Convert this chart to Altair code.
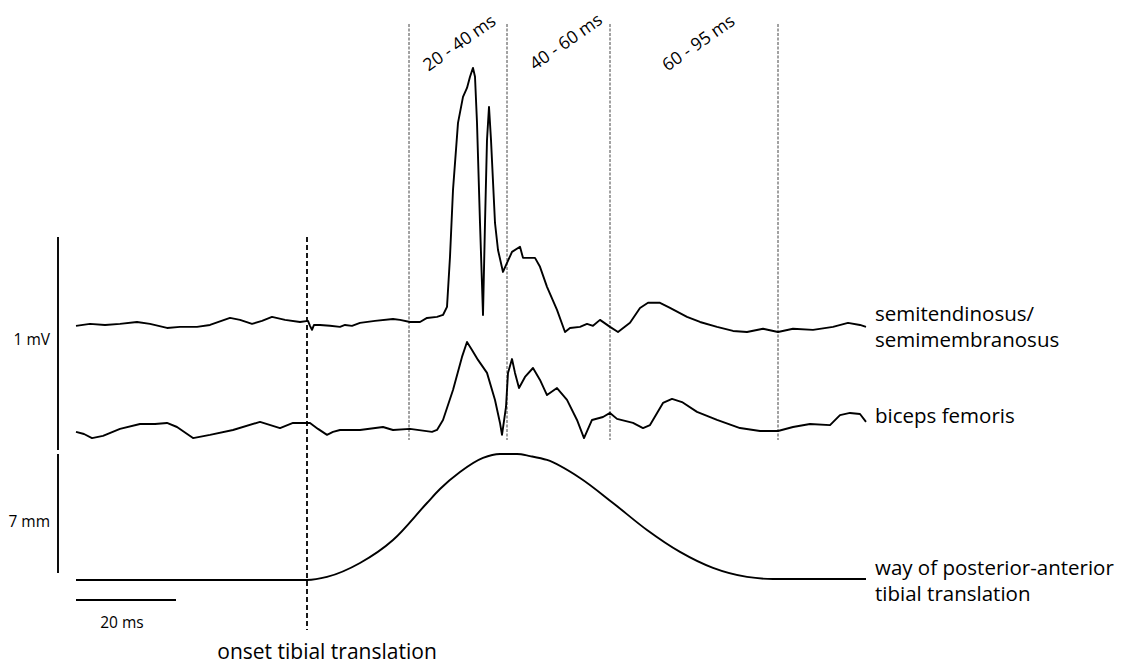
import altair as alt
import pandas as pd

# ---- values: time in ms (0 = onset tibial translation) ----
# semitendinosus / semimembranosus EMG (mV, relative to its own baseline)
st_time = [-46.2, -43.4, -40.4, -37.4, -34.0, -31.4, -28.0, -25.4, -22.0, -19.4, -15.4, -13.4, -11.0, -9.0,
           -7.0, -4.4, -1.4, 0.2, 0.6, 1.0, 1.4, 2.6, 4.6, 6.6, 7.6, 9.0, 10.6, 13.6, 17.2, 18.6, 20.6, 22.6,
           24.0, 26.0, 27.2, 28.0, 28.6, 29.2, 30.2, 31.2, 32.0, 32.6, 33.2, 33.6, 34.0, 34.6, 35.2, 35.6,
           36.0, 36.4, 36.8, 37.6, 38.2, 39.2, 40.0, 41.0, 42.6, 43.2, 45.6, 46.6, 48.0, 50.0, 51.6, 52.6,
           54.6, 56.0, 57.2, 58.6, 60.6, 62.2, 64.6, 66.6, 68.2, 70.6, 72.6, 76.0, 78.6, 82.0, 85.2, 88.0,
           91.2, 94.2, 97.2, 101.2, 105.2, 108.2, 110.6, 111.8]
st_mv = [-0.009, 0.000, -0.005, 0.000, 0.009, 0.000, -0.019, -0.014, -0.014, -0.005, 0.028, 0.019, 0.000,
         0.014, 0.033, 0.019, 0.009, 0.014, -0.009, -0.028, -0.005, -0.005, -0.009, -0.014, -0.005, -0.009,
         0.005, 0.014, 0.023, 0.019, 0.009, 0.009, 0.028, 0.033, 0.042, 0.080, 0.315, 0.629, 0.944, 1.066,
         1.108, 1.160, 1.202, 1.160, 0.944, 0.474, 0.042, 0.474, 0.864, 1.019, 0.864, 0.474, 0.347, 0.244,
         0.286, 0.338, 0.362, 0.310, 0.310, 0.268, 0.174, 0.066, -0.038, -0.019, -0.014, 0.000, -0.009,
         0.019, -0.014, -0.038, 0.005, 0.075, 0.099, 0.099, 0.075, 0.033, 0.009, -0.014, -0.033, -0.038,
         -0.023, -0.038, -0.023, -0.028, -0.014, 0.005, -0.005, -0.014]

# biceps femoris EMG (mV, relative to its own baseline)
bf_time = [-46.2, -44.6, -43.0, -40.8, -37.4, -33.4, -30.4, -28.0, -26.0, -22.8, -19.4, -14.8, -9.4, -5.4,
           -2.8, 0.6, 2.2, 4.0, 5.2, 6.6, 10.6, 15.2, 17.2, 20.6, 25.0, 26.0, 27.2, 29.2, 31.0, 32.0, 33.0,
           34.2, 36.0, 37.6, 38.6, 39.0, 39.8, 40.2, 41.0, 41.6, 42.4, 43.6, 45.2, 46.6, 48.0, 50.0, 52.0,
           54.0, 55.4, 57.0, 59.2, 60.6, 62.0, 65.2, 67.2, 68.6, 71.2, 73.0, 75.0, 78.0, 82.0, 86.6, 90.6,
           94.2, 97.2, 100.6, 104.6, 106.6, 108.6, 110.6, 111.8]
bf_mv = [-0.009, -0.019, -0.038, -0.028, 0.005, 0.028, 0.028, 0.033, 0.014, -0.038, -0.023, 0.000, 0.038,
         0.009, 0.033, 0.033, 0.005, -0.023, -0.009, 0.000, 0.000, 0.014, 0.000, 0.005, -0.009, 0.000, 0.047,
         0.188, 0.343, 0.413, 0.376, 0.329, 0.268, 0.141, 0.033, -0.023, 0.108, 0.268, 0.333, 0.268, 0.197,
         0.249, 0.291, 0.235, 0.164, 0.197, 0.141, 0.047, -0.038, 0.047, 0.061, 0.080, 0.052, 0.033, 0.009,
         0.023, 0.127, 0.146, 0.131, 0.085, 0.047, 0.009, -0.005, -0.005, 0.014, 0.028, 0.023, 0.070, 0.080,
         0.075, 0.038]

# posterior-anterior tibial translation (mm)
disp_time = [-46.2, 0.0, 4.0, 10.6, 17.2, 24.0, 26.6, 30.6, 35.2, 38.6, 42.0, 44.6, 48.0, 54.6, 61.2, 68.0,
             74.6, 81.2, 88.0, 93.2, 98.6, 111.8]
disp_mm = [0.0, 0.0, 0.18, 1.0, 2.35, 4.53, 5.35, 6.35, 7.18, 7.41, 7.41, 7.29, 7.06, 6.0, 4.53, 2.94,
           1.65, 0.71, 0.18, 0.06, 0.06, 0.06]

window_bounds = [20.4, 40.0, 60.6, 94.2]
window_labels = ["20 - 40 ms", "40 - 60 ms", "60 - 95 ms"]
window_label_t = [30.6, 51.9, 78.4]
trace_labels = ["semitendinosus/", "semimembranosus", "biceps femoris",
                "way of posterior-anterior", "tibial translation"]

# trace offsets (mV above the lower end of the 1 mV bar)
ST_OFF, BF_OFF = 0.592, 0.094

assert len(st_time) == len(st_mv) and len(bf_time) == len(bf_mv) and len(disp_time) == len(disp_mm)

emg = pd.concat([
    pd.DataFrame({"t": st_time, "v": [v + ST_OFF for v in st_mv], "s": "ST"}),
    pd.DataFrame({"t": bf_time, "v": [v + BF_OFF for v in bf_mv], "s": "BF"}),
])
disp = pd.DataFrame({"t": disp_time, "d": disp_mm})

FONT = "Open Sans"
xs = alt.Scale(domain=[-59.8, 162.0], nice=False, zero=False)
ys = alt.Scale(domain=[-0.9953, 2.0751], nice=False, zero=False)
ms = alt.Scale(domain=[-4.824, 33.647], nice=False, zero=False)

X = alt.X("t:Q", scale=xs, axis=None)

emg_layer = alt.Chart(emg).mark_line(color="black", strokeWidth=1.9, strokeJoin="round").encode(
    x=X, y=alt.Y("v:Q", scale=ys, axis=None), detail="s:N", order=alt.Order("t:Q"))

disp_layer = alt.Chart(disp).mark_line(color="black", strokeWidth=1.9, interpolate="monotone").encode(
    x=X, y=alt.Y("d:Q", scale=ms, axis=None))

onset = pd.DataFrame({"t": [0.0], "v": [1.0], "v2": [-0.845]})
onset_layer = alt.Chart(onset).mark_rule(color="black", strokeWidth=1.8, strokeDash=[5, 3]).encode(
    x=X, y=alt.Y("v:Q", scale=ys, axis=None), y2="v2:Q")

win = pd.DataFrame({"t": window_bounds, "v": [2.0] * 4, "v2": [0.047] * 4})
win_layer = alt.Chart(win).mark_rule(color="#444444", strokeWidth=1, strokeDash=[3, 1.5]).encode(
    x=X, y=alt.Y("v:Q", scale=ys, axis=None), y2="v2:Q")

# scale bars
mv_bar = pd.DataFrame({"t": [-49.8], "v": [0.0], "v2": [1.0]})
mv_layer = alt.Chart(mv_bar).mark_rule(color="black", strokeWidth=1.9).encode(
    x=X, y=alt.Y("v:Q", scale=ys, axis=None), y2="v2:Q")
mm_bar = pd.DataFrame({"t": [-49.8], "d": [0.41], "d2": [7.41]})
mm_layer = alt.Chart(mm_bar).mark_rule(color="black", strokeWidth=1.9).encode(
    x=X, y=alt.Y("d:Q", scale=ms, axis=None), y2="d2:Q")
ms_bar = pd.DataFrame({"t": [-46.2], "t2": [-26.2], "v": [-0.704]})
ms_layer = alt.Chart(ms_bar).mark_rule(color="black", strokeWidth=1.9).encode(
    x=X, x2="t2:Q", y=alt.Y("v:Q", scale=ys, axis=None))

# texts
right_txt = pd.DataFrame({"t": [113.6] * 5, "v": [0.606, 0.484, 0.127, -0.587, -0.709], "txt": trace_labels})
right_layer = alt.Chart(right_txt).mark_text(font=FONT, fontSize=20.5, align="left", baseline="alphabetic",
                                             color="black").encode(
    x=X, y=alt.Y("v:Q", scale=ys, axis=None), text="txt:N")

bar_txt = pd.DataFrame({"t": [-51.4, -51.4], "v": [0.493, -0.362], "txt": ["1 mV", "7 mm"]})
bar_layer = alt.Chart(bar_txt).mark_text(font=FONT, fontSize=15.5, align="right", baseline="alphabetic",
                                         color="black").encode(
    x=X, y=alt.Y("v:Q", scale=ys, axis=None), text="txt:N")

ms_txt = pd.DataFrame({"t": [-37.0], "v": [-0.836], "txt": ["20 ms"]})
ms_txt_layer = alt.Chart(ms_txt).mark_text(font=FONT, fontSize=15.5, align="center", baseline="alphabetic",
                                           color="black").encode(
    x=X, y=alt.Y("v:Q", scale=ys, axis=None), text="txt:N")

onset_txt = pd.DataFrame({"t": [4.0], "v": [-0.981], "txt": ["onset tibial translation"]})
onset_txt_layer = alt.Chart(onset_txt).mark_text(font=FONT, fontSize=21, align="center",
                                                 baseline="alphabetic", color="black").encode(
    x=X, y=alt.Y("v:Q", scale=ys, axis=None), text="txt:N")

win_txt = pd.DataFrame({"t": window_label_t, "v": [1.908, 1.913, 1.908], "txt": window_labels})
win_txt_layer = alt.Chart(win_txt).mark_text(font=FONT, fontSize=17.5, align="center", baseline="middle",
                                             angle=325, color="black").encode(
    x=X, y=alt.Y("v:Q", scale=ys, axis=None), text="txt:N")

chart = alt.layer(
    win_layer, onset_layer, emg_layer, disp_layer, mv_layer, mm_layer, ms_layer,
    right_layer, bar_layer, ms_txt_layer, onset_txt_layer, win_txt_layer,
).resolve_scale(y="independent").properties(
    width=1109, height=654, autosize=alt.AutoSizeParams(type="none"),
    padding={"left": 0, "top": 0, "right": 0, "bottom": 8},
    background="white",
).configure_view(stroke=None)

chart.save("out.html", embed_options={"renderer": "svg", "actions": False})
